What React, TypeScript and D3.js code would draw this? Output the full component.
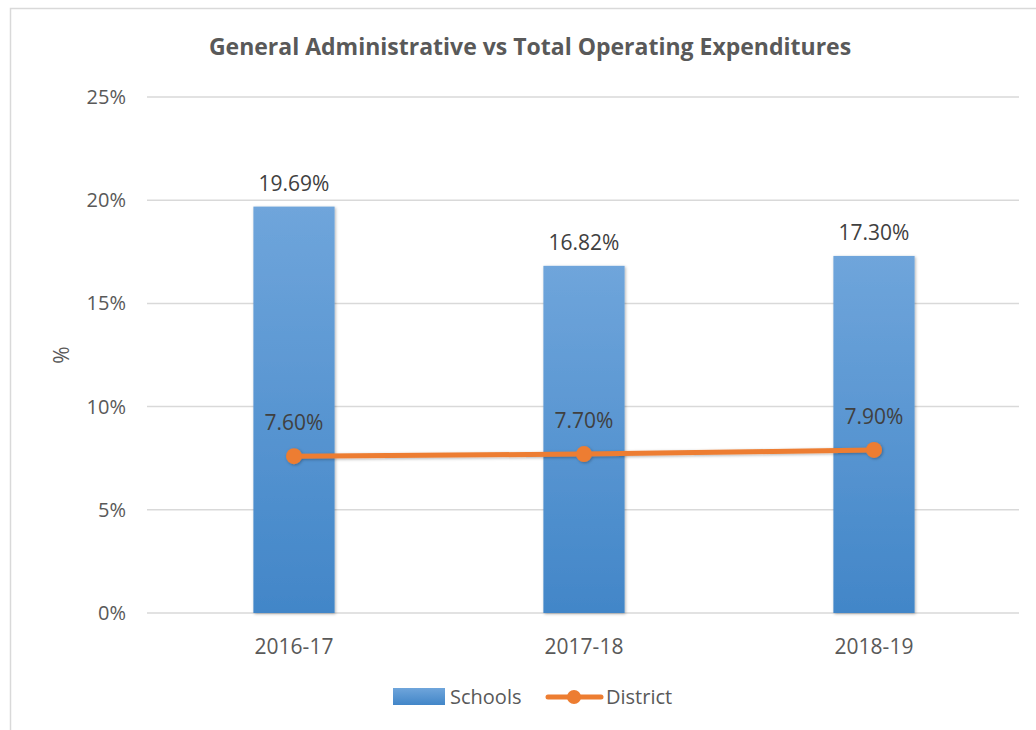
import React, { useEffect, useRef } from 'react';
import * as d3 from 'd3';

const years = ['2016-17', '2017-18', '2018-19'];
const schools = [19.69, 16.82, 17.3];
const district = [7.6, 7.7, 7.9];
const yTicks = [0, 5, 10, 15, 20, 25];

const FONT = '"Open Sans", Calibri, sans-serif';

const App = () => {
  const ref = useRef<SVGSVGElement | null>(null);

  useEffect(() => {
    document.body.style.margin = '0';
    const svg = d3.select(ref.current);
    svg.selectAll('*').remove();

    const W = 1036, H = 730;
    const margin = { top: 97, right: 17, bottom: 117, left: 149 };

    const defs = svg.append('defs');
    const grad = defs.append('linearGradient')
      .attr('id', 'barGrad').attr('x1', 0).attr('y1', 0).attr('x2', 0).attr('y2', 1);
    grad.append('stop').attr('offset', '0%').attr('stop-color', '#6fa5db');
    grad.append('stop').attr('offset', '100%').attr('stop-color', '#4286c8');
    const shadow = defs.append('filter').attr('id', 'shadow')
      .attr('x', '-20%').attr('y', '-20%').attr('width', '140%').attr('height', '140%');
    shadow.append('feDropShadow').attr('dx', 1).attr('dy', 1).attr('stdDeviation', 1.5)
      .attr('flood-color', '#000').attr('flood-opacity', 0.3);

    // chart border
    svg.append('rect')
      .attr('x', 10.5).attr('y', 8.5).attr('width', W).attr('height', H)
      .attr('fill', '#fff').attr('stroke', '#d9d9d9').attr('stroke-width', 1.5);

    const x = d3.scaleBand().domain(years)
      .range([margin.left, W - margin.right]).paddingInner(0.72).paddingOuter(0.36);
    const y = d3.scaleLinear().domain([0, 25]).range([H - margin.bottom, margin.top]);

    // gridlines + y labels
    const gy = svg.append('g');
    gy.selectAll('line').data(yTicks).join('line')
      .attr('x1', margin.left - 2).attr('x2', W - margin.right)
      .attr('y1', d => y(d)).attr('y2', d => y(d))
      .attr('stroke', '#d9d9d9').attr('stroke-width', 1.5);
    gy.selectAll('text').data(yTicks).join('text')
      .attr('x', 126).attr('y', d => y(d)).attr('dy', '0.35em')
      .attr('text-anchor', 'end')
      .attr('font-family', FONT).attr('font-size', 20).attr('fill', '#595959')
      .text(d => `${d}%`);

    // y title
    svg.append('text')
      .attr('transform', `translate(69,${(y(0) + y(25)) / 2}) rotate(-90)`)
      .attr('text-anchor', 'middle')
      .attr('font-family', FONT).attr('font-size', 21).attr('fill', '#595959')
      .text('%');

    // title
    svg.append('text')
      .attr('x', 530).attr('y', 55)
      .attr('text-anchor', 'middle')
      .attr('font-family', FONT).attr('font-weight', 'bold').attr('font-size', 23)
      .attr('fill', '#595959')
      .text('General Administrative vs Total Operating Expenditures');

    // bars
    svg.append('g').selectAll('rect').data(schools).join('rect')
      .attr('x', (_, i) => x(years[i])!)
      .attr('width', x.bandwidth())
      .attr('y', d => y(d))
      .attr('height', d => y(0) - y(d))
      .attr('fill', 'url(#barGrad)')
      .attr('filter', 'url(#shadow)');

    // bar labels
    svg.append('g').selectAll('text').data(schools).join('text')
      .attr('x', (_, i) => x(years[i])! + x.bandwidth() / 2)
      .attr('y', d => y(d) - 16)
      .attr('text-anchor', 'middle')
      .attr('font-family', FONT).attr('font-size', 21).attr('fill', '#404040')
      .text(d => `${d.toFixed(2)}%`);

    // x labels
    svg.append('g').selectAll('text').data(years).join('text')
      .attr('x', d => x(d)! + x.bandwidth() / 2)
      .attr('y', y(0) + 41)
      .attr('text-anchor', 'middle')
      .attr('font-family', FONT).attr('font-size', 21).attr('fill', '#595959')
      .text(d => d);

    // district line
    const cx = (i: number) => x(years[i])! + x.bandwidth() / 2;
    const line = d3.line<number>().x((_, i) => cx(i)).y(d => y(d));
    const lg = svg.append('g').attr('filter', 'url(#shadow)');
    lg.append('path').datum(district)
      .attr('d', line).attr('fill', 'none')
      .attr('stroke', '#ed7d31').attr('stroke-width', 5).attr('stroke-linecap', 'round');
    lg.selectAll('circle').data(district).join('circle')
      .attr('cx', (_, i) => cx(i)).attr('cy', d => y(d)).attr('r', 8)
      .attr('fill', '#ed7d31');

    svg.append('g').selectAll('text').data(district).join('text')
      .attr('x', (_, i) => cx(i))
      .attr('y', d => y(d) - 26)
      .attr('text-anchor', 'middle')
      .attr('font-family', FONT).attr('font-size', 21).attr('fill', '#404040')
      .text(d => `${d.toFixed(2)}%`);

    // legend
    const leg = svg.append('g');
    leg.append('rect').attr('x', 393).attr('y', 688).attr('width', 52).attr('height', 17)
      .attr('fill', 'url(#barGrad)');
    leg.append('text').attr('x', 450).attr('y', 697).attr('dy', '0.35em')
      .attr('font-family', FONT).attr('font-size', 20).attr('fill', '#595959')
      .text('Schools');
    leg.append('line').attr('x1', 548).attr('x2', 601).attr('y1', 697).attr('y2', 697)
      .attr('stroke', '#ed7d31').attr('stroke-width', 5).attr('stroke-linecap', 'round');
    leg.append('circle').attr('cx', 574).attr('cy', 697).attr('r', 7).attr('fill', '#ed7d31');
    leg.append('text').attr('x', 606).attr('y', 697).attr('dy', '0.35em')
      .attr('font-family', FONT).attr('font-size', 20).attr('fill', '#595959')
      .text('District');
  }, []);

  return (
    <svg ref={ref} width={1036} height={730}
      style={{ display: 'block', position: 'absolute', left: 0, top: 0, background: '#fff' }} />
  );
};

export default App;
